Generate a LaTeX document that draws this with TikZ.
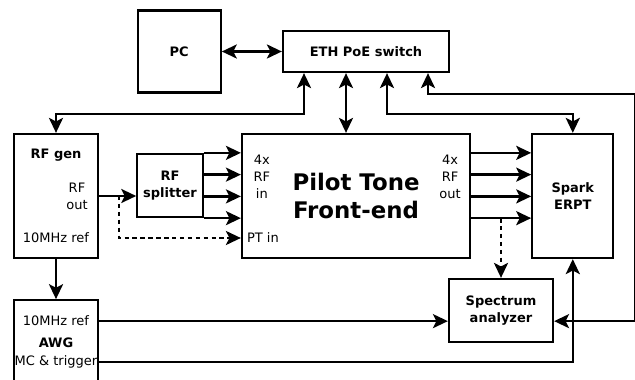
\documentclass[tikz,border=0pt]{standalone}
\usepackage{fontspec}
\setmainfont{DejaVu Sans}
\usepackage{tikz}
\usetikzlibrary{positioning,arrows.meta,calc}

\begin{document}
\begin{tikzpicture}[
    node distance=0.8cm and 1.2cm,
    font=\fontsize{7.4}{9.6}\selectfont,
    bold_txt/.style={font=\fontsize{7.4}{9.6}\selectfont\bfseries},
    dev_box/.style={draw, line width=1.3pt, align=center, bold_txt},
    port_txt/.style={align=center},
    arrow/.style={-{Stealth[length=8.5pt,width=8pt,inset=2pt]}, line width=1.3pt},
    biarrow/.style={{Stealth[length=8.5pt,width=8pt,inset=2pt]}-{Stealth[length=8.5pt,width=8pt,inset=2pt]}, line width=1.3pt},
    dasharrow/.style={arrow, dash pattern=on 2.5pt off 2pt}
]
\useasboundingbox (0,0) rectangle (12.7,-7.6);
\clip (0,0) rectangle (12.7,-7.6);

% boxes
\node (eth) [dev_box, minimum width=3.32cm, minimum height=0.82cm] at (7.32,-1.03) {ETH PoE switch};
\node (pc) [dev_box, minimum width=1.66cm, minimum height=1.64cm, left=1.2cm of eth] {PC};

\node (rfgen) [dev_box, minimum width=1.68cm, minimum height=2.48cm] at (1.12,-3.92) {};
\node (split) [dev_box, minimum width=1.24cm, minimum height=1.26cm] at (3.40,-3.71) {RF\\splitter};
\node (pilot) [dev_box, minimum width=4.56cm, minimum height=2.48cm, font=\fontsize{13}{16}\selectfont\bfseries] at (7.12,-3.92) {Pilot Tone\\Front-end};
\node (spark) [dev_box, minimum width=1.62cm, minimum height=2.48cm, right=1.2cm of pilot] {Spark\\ERPT};
\node (spec) [dev_box, minimum width=2.08cm, minimum height=1.26cm] at (10.02,-6.21) {Spectrum\\analyzer};
\node (awg) [dev_box, minimum width=1.68cm, minimum height=2.0cm, below=0.8cm of rfgen] {};

% port labels
\node (rfgenname) [bold_txt] at ([yshift=-0.44cm]rfgen.north) {RF gen};
\node (rfout) [port_txt] at ([xshift=0.42cm]rfgen.center) {RF\\out};
\node (rfref) at ([yshift=-0.84cm]rfgen.center) {10MHz ref};
\node (rfin) [port_txt] at ($(pilot.west)+(0.42,0.38)$) {4x\\RF\\in};
\node (rfoutpt) [port_txt] at ($(pilot.east)+(-0.42,0.38)$) {4x\\RF\\out};
\node (ptin) [anchor=west] at ([yshift=-0.84cm]pilot.west) {PT in};
\node (awgref) at ([yshift=-0.44cm]awg.north) {10MHz ref};
\node (awgname) [bold_txt] at ([yshift=-0.88cm]awg.north) {AWG};
\node (awgmc) at ([yshift=-1.26cm]awg.north) {MC \& trigger};

% ethernet
\draw [biarrow] (pc.east) -- (eth.west);
\draw [biarrow] ([xshift=-1.24cm]eth.south) -- ++(0,-0.82) -| (rfgen.north);
\coordinate (ethb) at ([xshift=-0.4cm]eth.south);
\draw [biarrow] (ethb) -- (ethb |- pilot.north);
\draw [biarrow] ([xshift=0.42cm]eth.south) -- ++(0,-0.82) -| (spark.north);
\draw [biarrow] ([xshift=1.24cm]eth.south) -- ++(0,-0.42) -| ($(spark.east)+(0.42,0)$) |- (spec.east |- awgref);

% RF chain
\draw [arrow] (rfgen.east) -- (split.west |- rfgen.east);
\draw [dasharrow] ([xshift=0.4cm]rfgen.east) |- (pilot.west |- ptin);
\foreach \i in {0,...,3} {
    \coordinate (sp\i) at ($(split.north east)!\i/3!(split.south east)$);
    \draw [arrow] (sp\i) -- (sp\i -| pilot.west);
    \draw [arrow] (sp\i -| pilot.east) -- (sp\i -| spark.west);
}
\draw [dasharrow] (sp3 -| spec.north) -- (spec.north);

% reference and trigger
\draw [arrow] (rfgen.south) -- (awg.north);
\draw [arrow] (awg.east |- awgref) -- (spec.west |- awgref);
\draw [arrow] (awg.east |- awgmc) -| (spark.south);

\end{tikzpicture}
\end{document}
